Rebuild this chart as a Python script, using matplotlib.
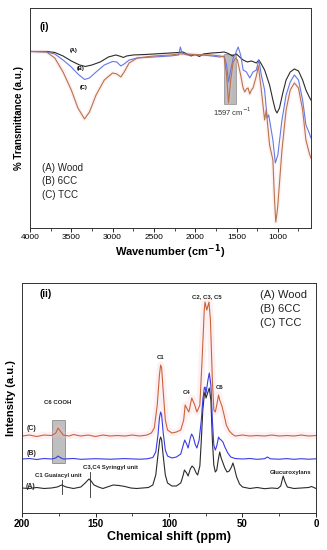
import numpy as np
import matplotlib
matplotlib.use("Agg")
import matplotlib.pyplot as plt
from matplotlib.patches import Rectangle
from matplotlib.ticker import MultipleLocator

plt.rcParams["font.family"] = ["Liberation Sans", "DejaVu Sans"]

# ---- (i) FTIR spectra: wavenumber (cm-1) vs transmittance (a.u.)
ftir_wood_wn = [4000, 3800, 3700, 3600, 3500, 3400, 3330, 3250, 3150, 3050, 2960, 2900, 2870,
                2830, 2750, 2600, 2500, 2400, 2300, 2200, 2150, 2100, 2050, 2000, 1950, 1900,
                1800, 1700, 1650, 1600, 1550, 1500, 1450, 1420, 1370, 1320, 1260, 1230, 1200,
                1160, 1100, 1060, 1030, 1010, 980, 940, 900, 850, 800, 750, 700, 660, 620, 600]
ftir_wood_t = [176.5, 176.5, 175.5, 172, 167, 163, 161.5, 163, 166, 171, 173, 171.5, 170.5,
               172, 173, 173.5, 174, 174.5, 175, 175.5, 176, 174, 172, 173.5, 171.5, 174,
               175, 175.5, 176, 174.5, 172, 174, 170, 168, 166, 167, 165, 168, 164,
               158, 143, 128, 118, 115, 120, 135, 148, 156, 159, 157, 148, 138, 131, 128]

ftir_6cc_wn = [4000, 3800, 3700, 3600, 3500, 3420, 3340, 3280, 3200, 3100, 3000, 2950, 2900,
               2860, 2800, 2700, 2500, 2300, 2200, 2180, 2160, 2100, 2000, 1900, 1800, 1700,
               1650, 1620, 1597, 1570, 1540, 1510, 1480, 1450, 1420, 1380, 1340, 1300, 1260,
               1230, 1200, 1160, 1130, 1110, 1060, 1030, 1000, 950, 900, 850, 800, 750, 700,
               660, 620, 600]
ftir_6cc_t = [176.5, 176, 174, 168, 161, 154, 148.5, 150, 156, 163, 166.5, 166, 162,
              164, 168, 170, 171, 172, 173, 181, 175, 173, 173, 173, 172, 171,
              172, 163, 146, 158, 170, 175, 181, 173, 158, 156, 150, 156, 158,
              168, 153, 138, 110, 113, 88, 65, 73, 108, 133, 146, 153, 148, 128,
              103, 95, 90]

ftir_tcc_wn = [4000, 3800, 3700, 3600, 3500, 3420, 3340, 3280, 3200, 3100, 3000, 2950, 2900,
               2860, 2800, 2700, 2500, 2300, 2200, 2100, 2000, 1900, 1800, 1700, 1650, 1620,
               1597, 1570, 1540, 1510, 1490, 1450, 1420, 1400, 1380, 1360, 1340, 1320, 1300,
               1260, 1235, 1200, 1160, 1140, 1100, 1060, 1040, 1025, 1010, 1000, 950, 900,
               850, 800, 750, 700, 660, 620, 600]
ftir_tcc_t = [176.5, 176, 170, 156, 138, 120, 109, 116, 133, 148, 155, 154, 151,
              156, 165, 170, 172, 173, 174, 174, 173.5, 173, 173, 172, 171, 153,
              125, 148, 166, 170, 168, 153, 140, 136, 139, 140, 134, 138, 140,
              152, 162, 138, 108, 118, 83, 68, 28, 6, 15, 23, 78, 118,
              138, 145, 140, 118, 88, 75, 70]

ftir_legend = ["(A) Wood", "(B) 6CC", "(C) TCC"]

# ---- (ii) 13C NMR spectra: chemical shift (ppm) vs intensity (a.u.)
nmr_tcc_ppm = [200, 195, 190, 185, 180, 177, 175.5, 174, 172, 168, 165, 160, 155, 150, 145,
               140, 135, 130, 125, 120, 115, 112, 110, 108, 106.5, 105.7, 105, 104, 102.5,
               101, 98, 95, 92, 90, 89, 88, 86.5, 84.5, 82.5, 81, 79, 77.5, 76, 75.5, 74.3,
               72.8, 71.8, 70.5, 69.5, 68.5, 67.5, 66.3, 65.5, 64, 62.5, 61, 59, 57, 55, 50,
               45, 40, 35, 30, 25, 20, 15, 10, 5, 0]
nmr_tcc_i = [77, 78, 76.5, 78, 77.5, 80, 85, 82, 78, 77, 78.5, 77, 78, 76.5, 78,
             77, 77.5, 77, 78, 77, 78, 80, 85, 108, 138, 148, 145, 123, 93,
             83, 80, 81, 83, 93, 108, 105, 101, 115, 108, 101, 108, 153, 203, 211, 203,
             211, 193, 133, 103, 101, 108, 118, 113, 107, 98, 88, 82, 79, 77, 78,
             77, 77.5, 77, 78, 77, 77.5, 77, 78, 77, 77.5]

nmr_6cc_ppm = [200, 195, 190, 185, 180, 177, 175.5, 174, 172, 165, 160, 150, 140, 130, 120,
               115, 111, 109, 107.5, 106.5, 105.7, 105, 104, 102.5, 101, 98, 95, 92, 90.3,
               89.3, 88, 87, 85.5, 84.6, 83.5, 82, 81, 79.5, 78, 77, 76, 75.5, 74.8, 73.5,
               72.6, 71.5, 70.5, 69.5, 68.5, 67.5, 66.3, 65.5, 64.5, 63.3, 62, 60, 58, 55,
               50, 45, 40, 35, 33, 31, 25, 20, 15, 10, 5, 0]
nmr_6cc_i = [54, 54.5, 53.5, 54.5, 54, 55, 57, 55.5, 54, 54.5, 53.7, 54.3, 53.8, 54.4, 53.8,
             54.2, 55.5, 61, 78, 95, 101, 98, 81, 63, 57, 55, 56, 59, 68,
             73, 69, 65, 75, 79, 76, 68, 65, 73, 93, 113, 125, 126, 120, 133,
             140, 128, 93, 68, 63, 67, 76, 74, 73, 71, 66, 60, 56, 54.5,
             54, 54.5, 53.7, 54.3, 56, 54.2, 53.8, 54.4, 53.7, 54.3, 53.8, 54.2]

nmr_wood_ppm = [200, 195, 190, 185, 180, 176, 173, 170, 165, 160, 157, 154.5, 153, 151, 148,
                145, 142, 138, 134, 130, 126, 122, 118, 114, 111, 109, 107.5, 106.3, 105.7,
                105, 104, 102.5, 101, 98, 95, 92, 90.5, 89.5, 88, 87, 85.5, 84.3, 83, 81.5,
                80.5, 79, 78, 77, 76, 75.5, 74.8, 73.5, 72.6, 71.5, 70.5, 69.5, 68.5, 67.5,
                66.5, 65.5, 64.5, 63.5, 62, 60.5, 59, 57.5, 56.5, 55.5, 54, 52, 50, 45, 40,
                35, 30, 26, 24, 22.3, 21, 19.5, 15, 10, 5, 3, 0]
nmr_wood_i = [25, 24.5, 25.5, 24.5, 25, 26, 28, 26, 24.5, 26, 30, 34, 32, 28, 26,
              24.5, 26, 28, 27.5, 26.5, 25, 24.5, 25, 25.5, 28, 38, 58, 73, 76,
              73, 58, 38, 30, 27, 27, 30, 37, 43, 40, 37, 44, 47, 45, 40,
              38, 47, 73, 103, 118, 121, 115, 121, 125, 113, 73, 48, 41, 43,
              53, 61, 55, 51, 45, 41, 42, 46, 50, 45, 36, 29, 26, 24.5, 25.5,
              24.3, 25, 24.5, 27, 37, 31, 26, 24.5, 25, 25.5, 26.5, 24.5]

nmr_legend = ["(A) Wood", "(B) 6CC", "(C) TCC"]

black = "#2b2b2b"
blue_ir = "#6478e8"
brown_ir = "#b8744a"
blue_nmr = "#3a3ae6"
red_nmr = "#c8643c"
glow = "#f8c4d2"

fig = plt.figure(figsize=(3.27, 5.5), dpi=100)

# ---------------- panel (i)
ax1 = fig.add_axes([0.0917, 0.5855, 0.859, 0.40])
ax1.plot(ftir_tcc_wn, ftir_tcc_t, color=glow, lw=3, alpha=0.25, solid_capstyle="round")
ax1.plot(ftir_wood_wn, ftir_wood_t, color=black, lw=0.8)
ax1.plot(ftir_6cc_wn, ftir_6cc_t, color=blue_ir, lw=0.8)
ax1.plot(ftir_tcc_wn, ftir_tcc_t, color=brown_ir, lw=0.8)
ax1.add_patch(Rectangle((1509, 124), 145, 50, facecolor="#8c8c8c", alpha=0.6,
                        edgecolor="#555555", lw=0.5, zorder=0))
ax1.set_xlim(4000, 600)
ax1.set_ylim(0, 220)
ax1.set_yticks([])
ax1.xaxis.set_major_locator(MultipleLocator(500))
ax1.xaxis.set_minor_locator(MultipleLocator(250))
ax1.set_xticks([4000, 3500, 3000, 2500, 2000, 1500, 1000])
ax1.tick_params(axis="x", which="major", labelsize=6, length=3, width=0.6, pad=1.5)
ax1.tick_params(axis="x", which="minor", length=2, width=0.5)
ax1.set_xlabel("Wavenumber (cm$^{\\mathbf{-1}}$)", fontsize=8, fontweight="bold", labelpad=1)
ax1.set_ylabel("% Transmittance (a.u.)", fontsize=7, fontweight="bold", labelpad=4)
for s in ax1.spines.values():
    s.set_linewidth(0.7)
    s.set_color("#333333")

ax1.text(3879, 201, "(i)", fontsize=7, fontweight="bold", va="center")
for i, lab in enumerate(ftir_legend):
    ax1.text(3855, 60 - 13.5 * i, lab, fontsize=7, va="center", color="#222222")
ax1.text(3516, 177, "(A)", fontsize=4, fontweight="bold", va="center")
ax1.text(3432, 159, "(B)", fontsize=4, fontweight="bold", va="center")
ax1.text(3395, 140, "(C)", fontsize=4, fontweight="bold", va="center")
ax1.text(1546, 116, "1597 cm$^{-1}$", fontsize=5.5, ha="center", va="center", color="#333333")

# ---------------- panel (ii)
ax2 = fig.add_axes([0.0673, 0.0673, 0.899, 0.418])
ax2.plot(nmr_tcc_ppm, nmr_tcc_i, color=glow, lw=5, alpha=0.25, solid_capstyle="round")
ax2.plot(nmr_wood_ppm, nmr_wood_i, color=black, lw=0.8)
ax2.plot(nmr_6cc_ppm, nmr_6cc_i, color=blue_nmr, lw=0.8)
ax2.plot(nmr_tcc_ppm, nmr_tcc_i, color=red_nmr, lw=0.8)
ax2.add_patch(Rectangle((170.8, 50), 8.8, 43, facecolor="#8c8c8c", alpha=0.55,
                        edgecolor="#444444", lw=0.6, zorder=0))
ax2.plot([173, 173], [19, 33], color=black, lw=0.6)
ax2.plot([154, 154], [16, 41], color=black, lw=0.6)
ax2.set_xlim(200, 0)
ax2.set_ylim(0, 230)
ax2.set_yticks([])
ax2.xaxis.set_major_locator(MultipleLocator(50))
ax2.xaxis.set_minor_locator(MultipleLocator(25))
ax2.tick_params(axis="x", which="major", labelsize=7, length=3, width=0.6, pad=1.5)
ax2.tick_params(axis="x", which="minor", length=2, width=0.5)
for lab in ax2.get_xticklabels():
    lab.set_fontweight("bold")
ax2.set_xlabel("Chemical shift (ppm)", fontsize=9, fontweight="bold", labelpad=1)
ax2.set_ylabel("Intensity (a.u.)", fontsize=8, fontweight="bold", labelpad=4)
for s in ax2.spines.values():
    s.set_linewidth(0.7)
    s.set_color("#333333")

ax2.text(187.8, 219, "(ii)", fontsize=7, fontweight="bold", va="center")
for i, lab in enumerate(nmr_legend):
    ax2.text(38, 218 - 14 * i, lab, fontsize=8, va="center", color="#222222")

peak_labels = [
    ("C1", 106, 156),
    ("C2, C3, C5", 74.1, 216),
    ("C4", 87.8, 121),
    ("C6", 65.3, 126),
    ("C6 COOH", 175.5, 111),
    ("C1 Guaiacyl unit", 175, 38),
    ("C3,C4 Syringyl unit", 139.5, 46),
    ("Glucuroxylans", 17.3, 41),
]
for txt, x, y in peak_labels:
    ax2.text(x, y, txt, fontsize=4.3, fontweight="bold", ha="center", va="center",
             color="#222222")
ax2.text(197, 85, "(C)", fontsize=5, fontweight="bold", va="center", color="#222222")
ax2.text(197, 60, "(B)", fontsize=5, fontweight="bold", va="center", color="#222222")
ax2.text(197.5, 26, "(A)", fontsize=5, fontweight="bold", va="center", color="#222222")

fig.savefig("out.png", dpi=100)
